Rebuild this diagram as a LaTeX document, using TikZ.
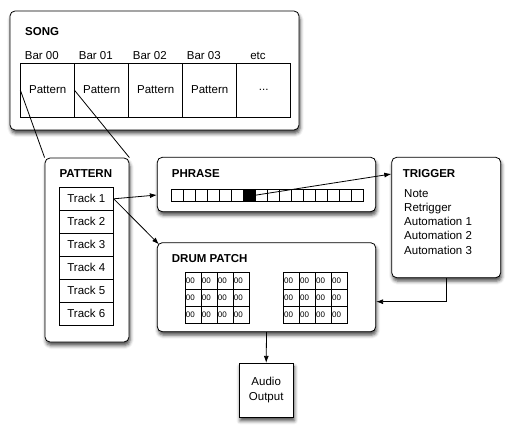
\documentclass[tikz,border=0pt]{standalone}
\usepackage{fontspec}
\setmainfont{Liberation Sans}
\usetikzlibrary{arrows.meta,shadows.blur,calc}
\begin{document}
\begin{tikzpicture}[x=1pt,y=-1pt,
  font=\fontsize{11.5}{14}\selectfont,
  box/.style={draw, line width=0.8pt, fill=white, rounded corners=5pt, inner sep=0pt,
    blur shadow={shadow xshift=1pt, shadow yshift=-3.5pt, shadow blur radius=3.5pt, shadow opacity=70}},
  sqbox/.style={box, rounded corners=0pt},
  title/.style={font=\fontsize{11.5}{14}\selectfont\bfseries, anchor=base west, inner sep=0pt},
  lbl/.style={anchor=base west, inner sep=0pt},
  cell/.style={draw, line width=0.8pt, inner sep=0pt},
  dcell/.style={draw, line width=0.8pt, inner xsep=0.8pt, inner ysep=0pt, text width=14.4pt,
    minimum height=17pt, align=left, font=\fontsize{8}{8}\selectfont},
  arr/.style={line width=0.8pt, -{Latex[length=7pt,width=5pt]}},
  link/.style={line width=0.8pt},
]
\useasboundingbox (0,0) rectangle (516,430);

% SONG
\node[box, minimum width=289pt, minimum height=119pt] (song) at (154.5,70.5) {};
\node[title] (songt) at (25,36) {SONG};
\foreach \i in {0,...,3}{
  \node[lbl] (bar\i) at ({24.7+54*\i},60) {Bar 0\i};
  \node[cell, minimum width=54pt, minimum height=54pt] (p\i) at ({47.7+54*\i},90) {Pattern};
}
\node[anchor=base, inner sep=0pt] (etc) at (258,60) {etc};
\node[cell, minimum width=54pt, minimum height=54pt] (p4) at (263.7,90) {...};

% PATTERN
\node[box, minimum width=84pt, minimum height=184pt] (pat) at (87,250) {};
\node[title] (patt) at (59.3,177.5) {PATTERN};
\foreach \i in {1,...,6}{
  \node[cell, minimum width=54pt, minimum height=23pt] (tr\i) at (86.3,{198.8+23*(\i-1)}) {Track \i};
}

% PHRASE
\node[box, minimum width=218.4pt, minimum height=54.4pt] (phr) at (266.5,184.5) {};
\node[title] (phrt) at (171.7,177.3) {PHRASE};
\foreach \i in {0,...,5,7,8,...,15}{
  \node[cell, minimum width=12pt, minimum height=11.7pt] (ph\i) at ({177+12*\i},195.2) {};
}
\node[cell, fill=black, minimum width=12pt, minimum height=11.7pt] (ph6) at (249,195.2) {};

% TRIGGER
\node[box, minimum width=109pt, minimum height=120.4pt] (trig) at (446.2,217.5) {};
\node[title] (trigt) at (402.7,177.3) {TRIGGER};
\foreach \t [count=\k] in {Note, Retrigger, Automation 1, Automation 2, Automation 3}{
  \node[lbl] (ti\k) at (404,{197.3+14.2*(\k-1)}) {\t};
}

% DRUM PATCH
\node[box, minimum width=218.4pt, minimum height=89pt] (drum) at (266.5,287.2) {};
\node[title] (drumt) at (171.7,262.7) {DRUM PATCH};
\foreach \g/\x in {a/185,b/283.3}{
  \foreach \r in {0,1,2}{
    \foreach \c in {0,...,3}{
      \node[dcell] (g\g\r\c) at ({\x+8+16*\c},{272.3+8.5+17*\r}) {00};
    }
  }
}

% AUDIO OUTPUT
\node[sqbox, minimum width=54.3pt, minimum height=54pt, align=center,
  font=\fontsize{11.5}{15}\selectfont] (audio) at (266.2,390.3) {Audio\\Output};

% connectors
\draw[link] (p0.west) -- (pat.north west);
\draw[link] (p1.west) -- (pat.north east);
\draw[arr] (tr1.east) -- ([yshift=-10.5pt]phr.west);
\draw[arr] (tr1.east) -- ([xshift=2pt,yshift=-2pt]drum.north west);
\draw[arr] (ph6.east) -- ([yshift=43.5pt]trig.west);
\draw[arr] (trig.south) |- ([yshift=-14.5pt]drum.east);
\draw[arr] (drum.south) -- (audio.north);
\end{tikzpicture}
\end{document}
